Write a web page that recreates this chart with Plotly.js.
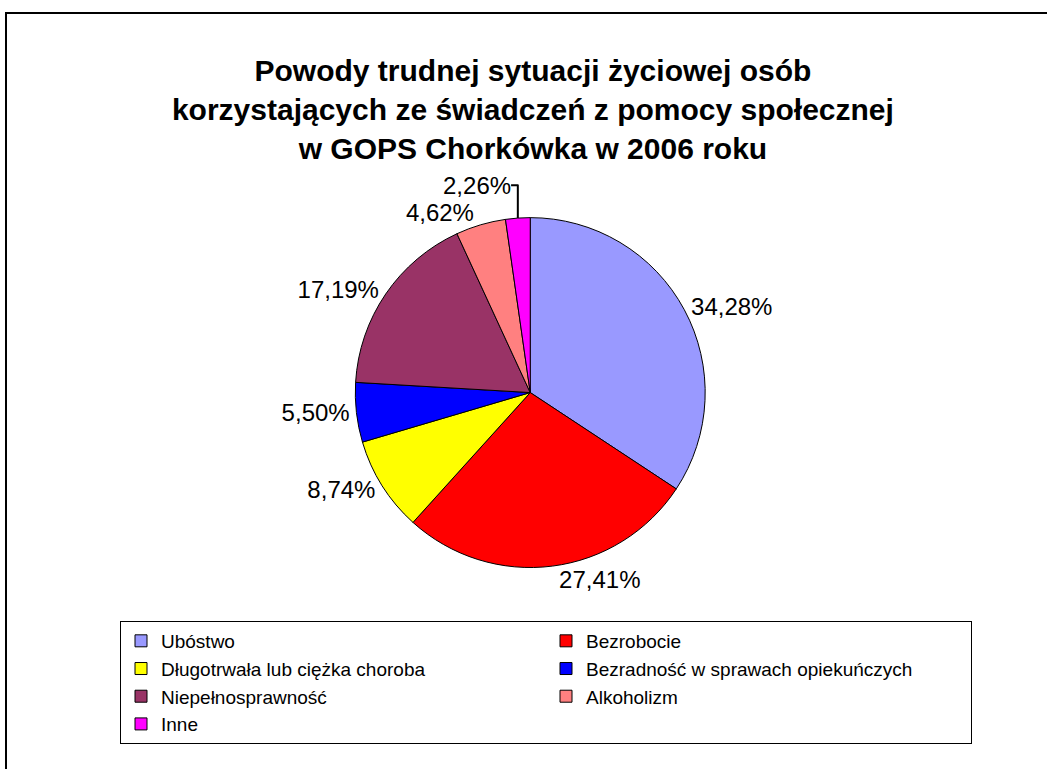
<!DOCTYPE html>
<html>
<head>
<meta charset="utf-8">
<script src="https://cdn.plot.ly/plotly-3.0.1.min.js"></script>
<style>
  html, body { margin: 0; padding: 0; background: #fff; overflow: hidden; }
  #chart { width: 1047px; height: 769px; }
  #frame { position: absolute; left: 5px; top: 12px; width: 1100px; height: 820px;
           border: 2px solid #000; pointer-events: none; }
</style>
</head>
<body>
<div id="chart"></div>
<div id="frame"></div>
<script>
const categories = [
  'Ubóstwo',
  'Bezrobocie',
  'Długotrwała lub ciężka choroba',
  'Bezradność w sprawach opiekuńczych',
  'Niepełnosprawność',
  'Alkoholizm',
  'Inne'
];
const shares = [34.28, 27.41, 8.74, 5.50, 17.19, 4.62, 2.26];
const sliceColors = ['#9999FF', '#FF0000', '#FFFF00', '#0000FF', '#993366', '#FF8080', '#FF00FF'];
const titleText = 'Powody trudnej sytuacji życiowej osób<br>korzystających ze świadczeń z pomocy społecznej<br>w GOPS Chorkówka w 2006 roku';

const trace = {
  type: 'pie',
  labels: categories,
  values: shares,
  sort: false,
  direction: 'clockwise',
  rotation: 0,
  marker: { colors: sliceColors, line: { color: '#000', width: 1 } },
  texttemplate: '%{percent:.2%}',
  textposition: 'outside',
  textfont: { family: 'Arial, Liberation Sans, sans-serif', size: 24, color: '#000' },
  hoverinfo: 'label+percent',
  domain: { x: [0.095, 0.83], y: [0.262, 0.717] }
};

const layout = {
  width: 1047,
  height: 769,
  separators: ', ',
  paper_bgcolor: '#fff',
  margin: { l: 120, r: 40, t: 0, b: 0 },
  font: { family: 'Arial, Liberation Sans, sans-serif', color: '#000' },
  title: {
    text: titleText,
    font: { family: 'Arial, Liberation Sans, sans-serif', size: 30, weight: 'bold', color: '#000' },
    xref: 'container', x: 0.509, xanchor: 'center',
    yref: 'container', y: 0.895, yanchor: 'top'
  },
  showlegend: true,
  legend: {
    orientation: 'h',
    x: 0, xanchor: 'left',
    y: 0.1925, yanchor: 'top',
    entrywidth: 380,
    traceorder: 'normal',
    bordercolor: '#000',
    borderwidth: 1,
    bgcolor: '#fff',
    font: { family: 'Arial, Liberation Sans, sans-serif', size: 19, color: '#000' }
  }
};

Plotly.newPlot('chart', [trace], layout, { displayModeBar: false, staticPlot: true });
</script>
</body>
</html>
